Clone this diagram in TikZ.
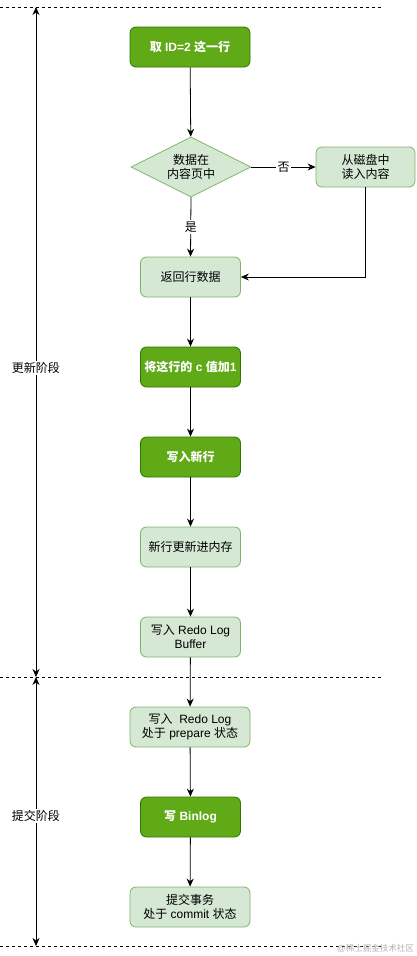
\documentclass[tikz,border=0pt]{standalone}
\usepackage{fontspec}
\setmainfont{Liberation Sans}
\newfontfamily\cjk{Noto Sans CJK SC}
\usetikzlibrary{arrows.meta,shapes.geometric}
\definecolor{dkfill}{HTML}{60A917}
\definecolor{dkline}{HTML}{2D7600}
\definecolor{ltfill}{HTML}{D5E8D4}
\definecolor{ltline}{HTML}{82B366}
\tikzset{
  x=1pt,y=-1pt,
  base/.style={rounded corners=6pt,line width=0.8pt,align=center,inner sep=0pt,
    font=\fontsize{12}{14}\selectfont},
  dark/.style={base,draw=dkline,fill=dkfill,text=white,font=\fontsize{12}{14}\selectfont\bfseries},
  light/.style={base,draw=ltline,fill=ltfill,text=black},
  conn/.style={line width=0.8pt,-{Stealth[length=8pt,width=7pt]}},
  phase/.style={line width=0.8pt,{Stealth[length=8pt,width=7pt]}-{Stealth[length=8pt,width=7pt]}},
  sep/.style={line width=0.7pt,dash pattern=on 3pt off 3pt},
  lbl/.style={fill=white,inner sep=1.5pt,font=\fontsize{12}{14}\selectfont}
}
\begin{document}
\begin{tikzpicture}
\useasboundingbox[fill=white] (0,0) rectangle (416,956);
% separators
\coordinate (s1l) at (0,7); \coordinate (s1r) at (382,7);
\coordinate (s2l) at (0,677); \coordinate (s2r) at (382,677);
\coordinate (s3l) at (0,946); \coordinate (s3r) at (382,946);
\draw[sep] (s1l) -- (s1r);
\draw[sep] (s2l) -- (s2r);
\draw[sep] (s3l) -- (s3r);
% phase arrows
\coordinate (p1t) at (36,7); \coordinate (p1b) at (36,677);
\coordinate (p2t) at (36,677); \coordinate (p2b) at (36,946);
\draw[phase] (p1t) -- (p1b);
\draw[phase] (p2t) -- (p2b);
\node[lbl] (ph1) at (36,368) {\cjk 更新阶段};
\node[lbl] (ph2) at (36,816) {\cjk 提交阶段};
% nodes
\node[dark,minimum width=120pt,minimum height=40pt] (n1) at (190,47) {{\cjk 取} ID=2 {\cjk 这一行}};
\node[diamond,aspect=2,draw=ltline,fill=ltfill,line width=0.8pt,minimum width=120pt,minimum height=60pt,inner sep=0pt,align=center,font=\fontsize{12}{14}\selectfont] (n2) at (191,167) {\cjk 数据在\\\cjk 内容页中};
\node[light,minimum width=99pt,minimum height=40pt] (n3) at (365.5,167) {\cjk 从磁盘中\\\cjk 读入内容};
\node[light,minimum width=100pt,minimum height=40pt] (n4) at (190.5,277) {\cjk 返回行数据};
\node[dark,minimum width=100pt,minimum height=40pt] (n5) at (190.5,367) {{\cjk 将这行的} c {\cjk 值加}1};
\node[dark,minimum width=100pt,minimum height=40pt] (n6) at (190.5,457) {\cjk 写入新行};
\node[light,minimum width=100pt,minimum height=40pt] (n7) at (190.5,547) {\cjk 新行更新进内存};
\node[light,minimum width=100pt,minimum height=40pt] (n8) at (190.5,637) {{\cjk 写入} Redo Log\\Buffer};
\node[light,minimum width=120pt,minimum height=40pt] (n9) at (190,727) {{\cjk 写入}\ \ Redo Log\\{\cjk 处于} prepare {\cjk 状态}};
\node[dark,minimum width=100pt,minimum height=40pt] (n10) at (190.5,817) {{\cjk 写} Binlog};
\node[light,minimum width=120pt,minimum height=40pt] (n11) at (190,907) {\cjk 提交事务\\{\cjk 处于} commit {\cjk 状态}};
% connectors
\draw[conn] (n1) -- (n2);
\draw[conn] (n2) -- node[lbl,pos=0.5] {\cjk 否} (n3);
\draw[conn] (n2.south) -- node[lbl,pos=0.5] {\cjk 是} (n4.north);
\draw[conn] (n3.south) |- (n4.east);
\draw[conn] (n4) -- (n5);
\draw[conn] (n5) -- (n6);
\draw[conn] (n6) -- (n7);
\draw[conn] (n7) -- (n8);
\draw[conn] (n8) -- (n9);
\draw[conn] (n9) -- (n10);
\draw[conn] (n10) -- (n11);
% watermark
\node[text=black!30,font=\fontsize{8.5}{10}\selectfont,anchor=east,inner sep=0pt] (wm) at (414,948) {@{\cjk 稀土掘金技术社区}};
\end{tikzpicture}
\end{document}
